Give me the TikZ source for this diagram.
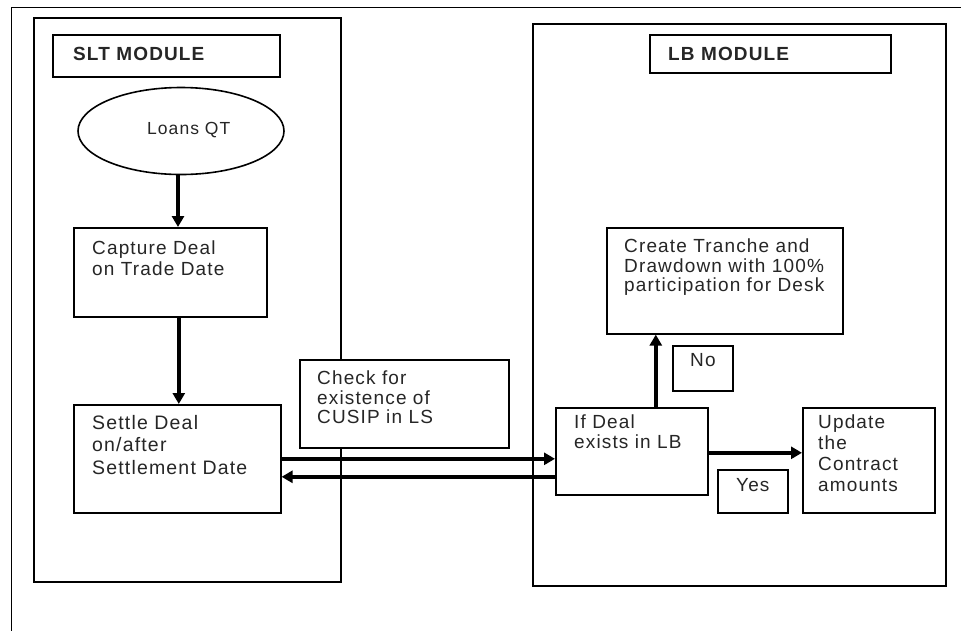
\documentclass[tikz,border=0pt]{standalone}
\usepackage{fontspec}
\setmainfont[LetterSpace=6]{Liberation Sans}
\usetikzlibrary{shapes.geometric,arrows.meta,calc}
\tikzset{
  box/.style={draw=black, fill=white, line width=1.6pt, rectangle, inner sep=0pt, anchor=north west},
  frame/.style={draw=black, line width=1.5pt},
  txt/.style={anchor=north west, inner sep=0pt, align=left, text=black!85, font=\fontsize{19}{20.5}\selectfont},
  ttl/.style={anchor=north west, inner sep=0pt, text=black!85, font=\fontsize{19}{20.5}\selectfont\bfseries},
  arr/.style={draw=black, line width=3.5pt, -{Triangle[length=11pt,width=12pt]}}
}
\begin{document}
\begin{tikzpicture}[x=1pt,y=-1pt]
\useasboundingbox (0,0) rectangle (961,630);
% outer frame (runs off the page to the right and bottom)
\coordinate (ofbl) at (11.7,640);
\coordinate (oftl) at (11.7,7.3);
\coordinate (oftr) at (975,7.3);
\draw[frame] (ofbl) -- (oftl) -- (oftr);

% modules
\node[box, fill=none, minimum width=307pt, minimum height=564pt] (slt) at (33,17) {};
\node[box, fill=none, minimum width=413pt, minimum height=562pt] (lb) at (532,23) {};
\node[box, minimum width=227pt, minimum height=42pt] (sltt) at (52,34) {};
\node[ttl] (slttx) at (73,47) {SLT MODULE};
\node[box, minimum width=241pt, minimum height=38pt] (lbt) at (649,34) {};
\node[ttl] (lbtx) at (668,47) {LB MODULE};

% SLT side
\node[draw=black, fill=white, line width=1.6pt, ellipse, minimum width=206pt, minimum height=87pt, inner sep=0pt] (ell) at (181,131) {};
\node[txt, font=\fontsize{17.5}{19}\selectfont] (ellx) at (147,122) {Loans QT};
\node[box, minimum width=193pt, minimum height=89pt] (cap) at (73,227) {};
\node[txt] (capx) at (92,241) {Capture Deal\\on Trade Date};
\node[box, minimum width=207pt, minimum height=108pt] (set) at (73,404) {};
\node[txt, font=\fontsize{19.5}{22.5}\selectfont] (setx) at (92,415) {Settle Deal\\on/after\\Settlement Date};

% middle note
\node[box, minimum width=209pt, minimum height=88pt] (chk) at (299,359) {};
\node[txt, font=\fontsize{19}{19.5}\selectfont] (chkx) at (317,371) {Check for\\existence of\\CUSIP in LS};

% LB side
\node[box, minimum width=236pt, minimum height=106pt] (cre) at (606,227) {};
\node[txt, font=\fontsize{19}{19.5}\selectfont] (crex) at (624,239) {Create Tranche and\\Drawdown with 100\%\\participation for Desk};
\node[box, minimum width=60pt, minimum height=45pt] (no) at (672,345) {};
\node[txt] (nox) at (690,353) {No};
\node[box, minimum width=152pt, minimum height=87pt] (ifd) at (555,407) {};
\node[txt, font=\fontsize{19}{20}\selectfont] (ifdx) at (574,415) {If Deal\\exists in LB};
\node[box, minimum width=132pt, minimum height=105pt] (upd) at (802,407) {};
\node[txt, font=\fontsize{19}{21}\selectfont] (updx) at (818,415) {Update\\the\\Contract\\amounts};
\node[box, minimum width=70pt, minimum height=43pt] (yes) at (717,469) {};
\node[txt] (yesx) at (736,478) {Yes};

% connectors
\draw[arr] ([xshift=-3pt]ell.south) -- ([xshift=-3pt]ell.south |- cap.north);
\draw[arr] ([xshift=8.5pt]cap.south) -- ([xshift=8.5pt]cap.south |- set.north);
\draw[arr] (set.east) -- (set.east -| ifd.west);
\draw[arr] ([yshift=-18pt]set.east -| ifd.west) -- ([yshift=-18pt]set.east);
\draw[arr] ([xshift=24pt]ifd.north) -- ([xshift=24pt]ifd.north |- cre.south);
\draw[arr] ([yshift=-1.5pt]ifd.east) -- ([yshift=-1.5pt]ifd.east -| upd.west);
\end{tikzpicture}
\end{document}
